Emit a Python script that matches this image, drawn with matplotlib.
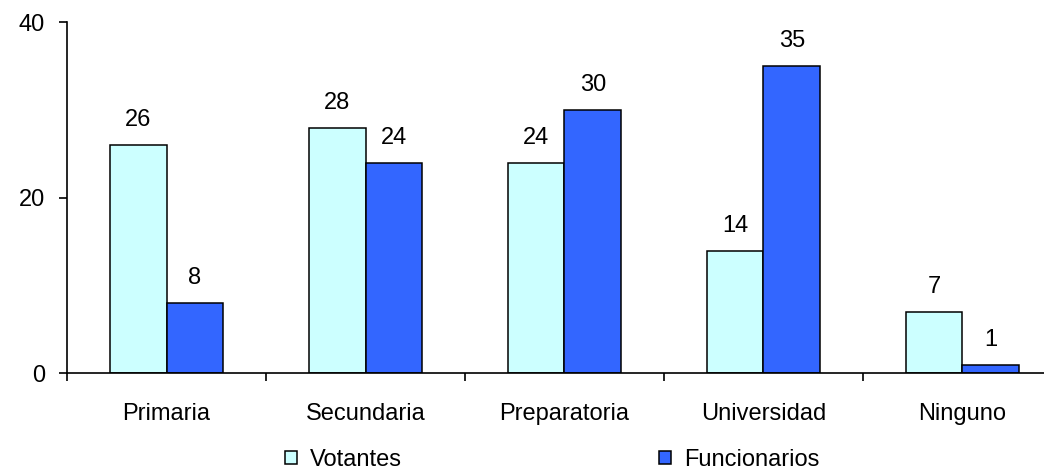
import matplotlib.pyplot as plt
import numpy as np

plt.rcParams['font.family'] = ['Liberation Sans', 'DejaVu Sans']

categorias = ['Primaria', 'Secundaria', 'Preparatoria', 'Universidad', 'Ninguno']
votantes = [26, 28, 24, 14, 7]
funcionarios = [8, 24, 30, 35, 1]

fig = plt.figure(figsize=(10.44, 4.75), dpi=100)
ax = fig.add_axes([0.0642, 0.2137, 0.953, 0.739])

x = np.arange(len(categorias))
w = 0.286
b1 = ax.bar(x - w / 2, votantes, w, color='#CCFFFF', edgecolor='black', linewidth=1.1, label='Votantes')
b2 = ax.bar(x + w / 2, funcionarios, w, color='#3366FF', edgecolor='black', linewidth=1.1, label='Funcionarios')

# etiquetas de datos
for bars, vals in ((b1, votantes), (b2, funcionarios)):
    for r, v in zip(bars, vals):
        ax.annotate(str(v), (r.get_x() + r.get_width() / 2, v), xytext=(0, 10),
                    textcoords='offset points', ha='center', va='bottom', fontsize=17)

ax.set_xlim(-0.5, len(categorias) - 0.5)
ax.set_ylim(0, 40)
ax.set_yticks([0, 20, 40])
ax.tick_params(axis='y', labelsize=17, length=6, width=1.2, pad=10)

# ticks entre categorias, nombres al centro
ax.set_xticks(np.arange(len(categorias) + 1) - 0.5)
ax.set_xticklabels([])
ax.set_xticks(x, minor=True)
ax.set_xticklabels(categorias, minor=True)
ax.tick_params(axis='x', which='major', length=6, width=1.2)
ax.tick_params(axis='x', which='minor', length=0, labelsize=17, pad=21)

for s in ('top', 'right'):
    ax.spines[s].set_visible(False)
for s in ('left', 'bottom'):
    ax.spines[s].set_linewidth(1.2)

fig.legend(handles=[b1, b2], loc='center left', bbox_to_anchor=(0.273, 0.032),
           ncol=2, frameon=False, fontsize=17, handlelength=0.5, handleheight=0.5,
           handletextpad=0.55, columnspacing=10.9, borderpad=0, borderaxespad=0)

fig.savefig('out.png', dpi=100)
